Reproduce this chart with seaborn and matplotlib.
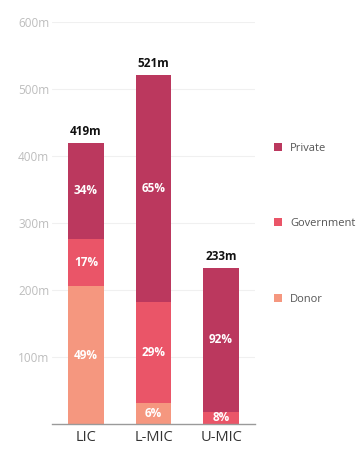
import matplotlib
matplotlib.use("Agg")
import matplotlib.pyplot as plt
from matplotlib.patches import Patch
import numpy as np
import pandas as pd
import seaborn as sns

# Funding by income group (millions), split by source
groups = ["LIC", "L-MIC", "U-MIC"]
totals = [419, 521, 233]
donor_pct = [49, 6, 0]
government_pct = [17, 29, 8]
private_pct = [34, 65, 92]

sources = ["Private", "Government", "Donor"]
colors = {"Private": "#bb385e", "Government": "#ea5568", "Donor": "#f5977f"}

sns.set_theme(style="white")
plt.rcParams["font.family"] = ["Open Sans", "DejaVu Sans"]

tot = np.array(totals, dtype=float)
donor = tot * np.array(donor_pct) / 100
gov = tot * np.array(government_pct) / 100
priv = tot - donor - gov

df = pd.DataFrame({
    "group": groups,
    "Private": tot,               # top of the stack
    "Government": donor + gov,    # top of government segment
    "Donor": donor,
})

fig = plt.figure(figsize=(3.57, 4.49), dpi=100)
ax = fig.add_axes([0.146, 0.0557, 0.568, 0.8953])

for s in sources:
    sns.barplot(data=df, x="group", y=s, color=colors[s], width=0.53,
                saturation=1, linewidth=0, edgecolor="none", ax=ax, zorder=2)

ax.set_xlim(-0.5, 2.5)
ax.set_ylim(0, 600)
ax.set_xlabel("")
ax.set_ylabel("")
ax.set_yticks([100, 200, 300, 400, 500, 600])
ax.set_yticklabels([f"{v}m" for v in [100, 200, 300, 400, 500, 600]],
                   color="#bdbdbd", fontsize=8.5)
ax.tick_params(axis="y", length=0, pad=2)
ax.tick_params(axis="x", length=0, pad=4, labelsize=10.5, labelcolor="#333333")
ax.yaxis.grid(True, color="#f0f0f0", linewidth=0.8, zorder=0)
for sp in ["top", "right", "left"]:
    ax.spines[sp].set_visible(False)
ax.spines["bottom"].set_color("#9a9a9a")
ax.spines["bottom"].set_linewidth(1.0)

# Segment percentages and totals
for i in range(len(groups)):
    segs = [(0, donor[i], donor_pct[i]),
            (donor[i], donor[i] + gov[i], government_pct[i]),
            (donor[i] + gov[i], tot[i], private_pct[i])]
    for lo, hi, pct in segs:
        if pct > 0:
            ax.text(i, (lo + hi) / 2, f"{pct}%", ha="center", va="center",
                    color="white", fontsize=8.5, fontweight="bold", zorder=3)
    ax.text(i, tot[i] + 8, f"{totals[i]}m", ha="center", va="bottom",
            color="#111111", fontsize=8.5, fontweight="bold", zorder=3)

handles = [Patch(facecolor=colors[s], edgecolor="none", label=s) for s in sources]
fig.legend(handles=handles, loc="upper left", bbox_to_anchor=(0.755, 0.692),
           frameon=False, fontsize=8, labelcolor="#555555",
           handlelength=0.75, handleheight=0.75, handletextpad=0.7,
           labelspacing=5.8, borderaxespad=0)

fig.savefig("out.png", dpi=100, facecolor="white")
